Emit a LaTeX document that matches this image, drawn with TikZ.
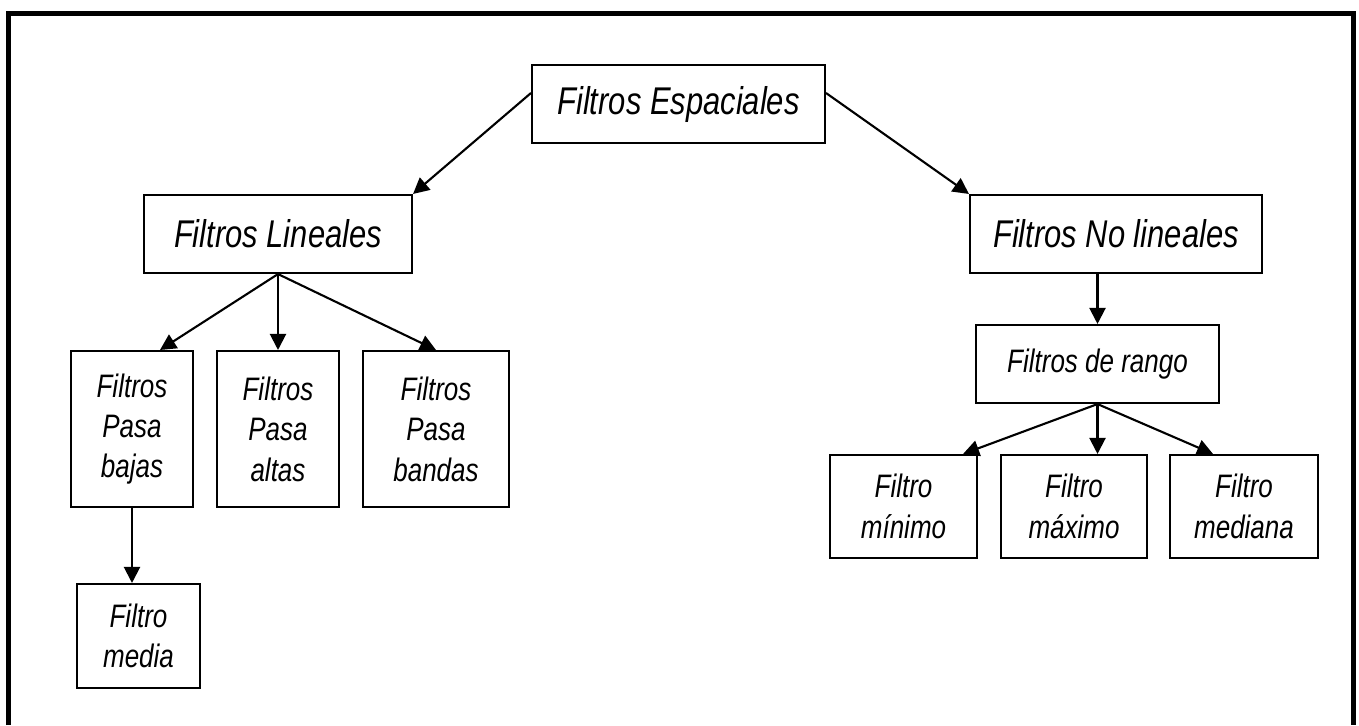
\documentclass[tikz,border=0pt]{standalone}
\usepackage{fontspec}
\newfontfamily\filtfont{Liberation Sans}[FakeStretch=0.8]
\usetikzlibrary{arrows.meta}

\tikzset{
  bigbox/.style={draw, line width=1.2pt, inner sep=0pt, minimum height=1.56cm,
    font=\filtfont\itshape\fontsize{22}{26}\selectfont},
  smallbox/.style={draw, line width=1.2pt, inner sep=0pt, align=center,
    font=\filtfont\itshape\fontsize{18.5}{23}\selectfont},
  branch/.style={-{Triangle[length=0.32cm,width=0.32cm]}, line width=1.2pt}
}

\begin{document}
\begin{tikzpicture}[x=0.02cm, y=-0.02cm]
\useasboundingbox (0,0) rectangle (1359,725);
\draw[line width=0.1cm] (8.5,725) -- (8.5,13.5) -- (1353.5,13.5) -- (1353.5,725);
% top levels
\node[bigbox, minimum width=5.86cm] (esp) at (678.5,104) {Filtros Espaciales};
\node[bigbox, minimum width=5.36cm] (lin) at (278,234) {Filtros Lineales};
\node[bigbox, minimum width=5.84cm] (nolin) at (1116,234) {Filtros No lineales};
\node[smallbox, minimum width=4.86cm, minimum height=1.56cm] (rango) at (1097.5,364) {Filtros de rango};
% linear filters
\node[smallbox, minimum width=2.44cm, minimum height=3.12cm] (bajas) at (132,429) {Filtros\\Pasa\\bajas};
\node[smallbox, minimum width=2.44cm, minimum height=3.12cm] (altas) at (278,429) {Filtros\\Pasa\\altas};
\node[smallbox, minimum width=2.92cm, minimum height=3.12cm] (bandas) at (436,429) {Filtros\\Pasa\\bandas};
\node[smallbox, minimum width=2.46cm, minimum height=2.08cm] (media) at (138.5,636) {Filtro\\media};
% rank filters
\node[smallbox, minimum width=2.94cm, minimum height=2.06cm] (minimo) at (903.5,506.5) {Filtro\\mínimo};
\node[smallbox, minimum width=2.92cm, minimum height=2.06cm] (maximo) at (1074,506.5) {Filtro\\máximo};
\node[smallbox, minimum width=2.96cm, minimum height=2.06cm] (mediana) at (1244,506.5) {Filtro\\mediana};
% connectors
\draw[branch] ([yshift=0.22cm]esp.west) -- (lin.north east);
\draw[branch] ([yshift=0.22cm]esp.east) -- (nolin.north west);
\draw[branch] (lin.south) -- ([xshift=0.56cm]bajas.north);
\draw[branch] (lin.south) -- (altas.north);
\draw[branch] (lin.south) -- (bandas.north);
\draw[branch] (bajas.south) -- (bajas.south |- media.north);
\draw[branch] (rango.north |- nolin.south) -- (rango.north);
\draw[branch] (rango.south) -- ([xshift=-0.3cm]minimo.north east);
\draw[branch] (rango.south) -- (rango.south |- maximo.north);
\draw[branch] (rango.south) -- ([xshift=-0.62cm]mediana.north);
\end{tikzpicture}
\end{document}
